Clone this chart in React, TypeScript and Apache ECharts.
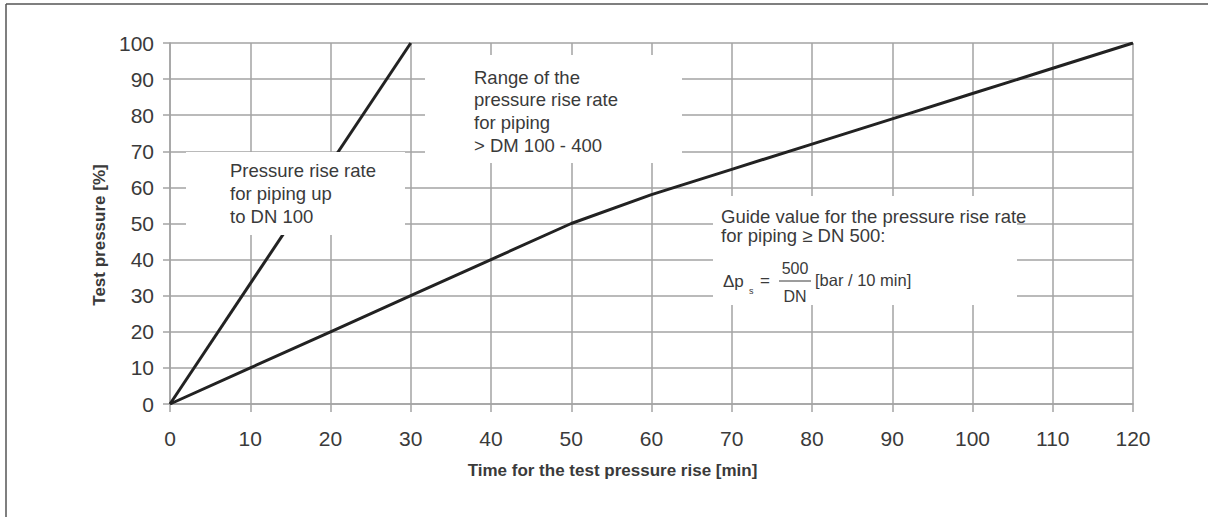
import React, { useEffect, useRef } from "react";
import * as echarts from "echarts";

// Data
const steepTime = [0, 30];
const steepPressure = [0, 100];
const guideTime = [0, 10, 20, 30, 40, 50, 60, 70, 80, 90, 100, 110, 120];
const guidePressure = [0, 10, 20, 30, 40, 50, 58, 65, 72, 79, 86, 93, 100];

const xAxisName = "Time for the test pressure rise [min]";
const yAxisName = "Test pressure [%]";
const box1Lines = ["Pressure rise rate", "for piping up", "to DN 100"];
const box2Lines = ["Range of the", "pressure rise rate", "for piping", "> DM 100 - 400"];
const box3Lines = ["Guide value for the pressure rise rate", "for piping \u2265 DN 500:"];

const FONT = 'Arial, "Liberation Sans", Helvetica, sans-serif';
const TXT = "#3a3a3a";
const GRID = "#a3a3a3";

function textEl(x: number, y: number, text: string, size = 18.5, extra: any = {}) {
  return {
    type: "text",
    x,
    y,
    z: 60,
    style: {
      text,
      fill: TXT,
      font: `${size}px ${FONT}`,
      verticalAlign: "middle",
      align: "left",
      ...extra,
    },
  };
}

function rectEl(x: number, y: number, w: number, h: number) {
  return {
    type: "rect",
    z: 50,
    shape: { x, y, width: w, height: h },
    style: { fill: "#ffffff" },
  };
}

export default function App() {
  const ref = useRef<HTMLDivElement>(null);
  useEffect(() => {
    if (!ref.current) return;
    const chart = echarts.init(ref.current, null, { renderer: "svg" });
    const option: any = {
      animation: false,
      backgroundColor: "#ffffff",
      grid: { left: 170, right: 75, top: 43, bottom: 113, containLabel: false },
      xAxis: {
        type: "value",
        min: 0,
        max: 120,
        interval: 10,
        name: xAxisName,
        nameLocation: "middle",
        nameGap: 58,
        nameTextStyle: {
          fontFamily: FONT,
          fontSize: 17,
          fontWeight: "bold",
          color: TXT,
          padding: [0, 78, 0, 0],
        },
        axisLine: { show: true, lineStyle: { color: GRID, width: 1.5 } },
        axisTick: { show: true, length: 8, lineStyle: { color: GRID, width: 1.5 } },
        axisLabel: { fontFamily: FONT, fontSize: 21, color: TXT, margin: 24 },
        splitLine: { show: true, lineStyle: { color: GRID, width: 1.5 } },
      },
      yAxis: {
        type: "value",
        min: 0,
        max: 100,
        interval: 10,
        name: yAxisName,
        nameLocation: "middle",
        nameGap: 57,
        nameRotate: 90,
        nameTextStyle: {
          fontFamily: FONT,
          fontSize: 17,
          fontWeight: "bold",
          color: TXT,
          padding: [0, 23, 0, 0],
        },
        axisLine: { show: true, lineStyle: { color: GRID, width: 1.5 } },
        axisTick: { show: true, length: 7, lineStyle: { color: GRID, width: 1.5 } },
        axisLabel: { fontFamily: FONT, fontSize: 21, color: TXT, margin: 16 },
        splitLine: { show: true, lineStyle: { color: GRID, width: 1.5 } },
      },
      series: [
        {
          type: "line",
          data: steepTime.map((t, i) => [t, steepPressure[i]]),
          showSymbol: false,
          lineStyle: { color: "#222222", width: 3 },
          z: 5,
        },
        {
          type: "line",
          data: guideTime.map((t, i) => [t, guidePressure[i]]),
          showSymbol: false,
          lineStyle: { color: "#222222", width: 3 },
          z: 5,
        },
      ],
      graphic: [
        // frame (top and left only)
        { type: "line", z: 70, shape: { x1: 6, y1: 4, x2: 1208, y2: 4 }, style: { stroke: "#555", lineWidth: 1.5 } },
        { type: "line", z: 70, shape: { x1: 6, y1: 4, x2: 6, y2: 517 }, style: { stroke: "#555", lineWidth: 1.5 } },
        // box 1
        rectEl(186, 152, 219, 83),
        ...box1Lines.map((s, i) => textEl(230, 170 + i * 23, s)),
        // box 2
        rectEl(425, 55, 257, 108),
        ...box2Lines.map((s, i) => textEl(474, 77 + i * 22.7, s)),
        // box 3
        rectEl(713, 196, 304, 109),
        ...box3Lines.map((s, i) => textEl(721, 216 + i * 19.5, s)),
        // formula
        textEl(723, 281, "\u0394p", 17),
        textEl(749, 291, "s", 9),
        textEl(760, 280, "=", 17),
        textEl(795, 268, "500", 16, { align: "center" }),
        { type: "line", z: 60, shape: { x1: 779, y1: 281, x2: 811, y2: 281 }, style: { stroke: TXT, lineWidth: 1 } },
        textEl(795, 296, "DN", 16, { align: "center" }),
        textEl(815, 280, "[bar / 10 min]", 16.5),
      ],
    };
    chart.setOption(option);
    return () => chart.dispose();
  }, []);
  return (
    <div
      ref={ref}
      style={{ position: "fixed", left: 0, top: 0, width: 1208, height: 517, background: "#fff" }}
    />
  );
}
